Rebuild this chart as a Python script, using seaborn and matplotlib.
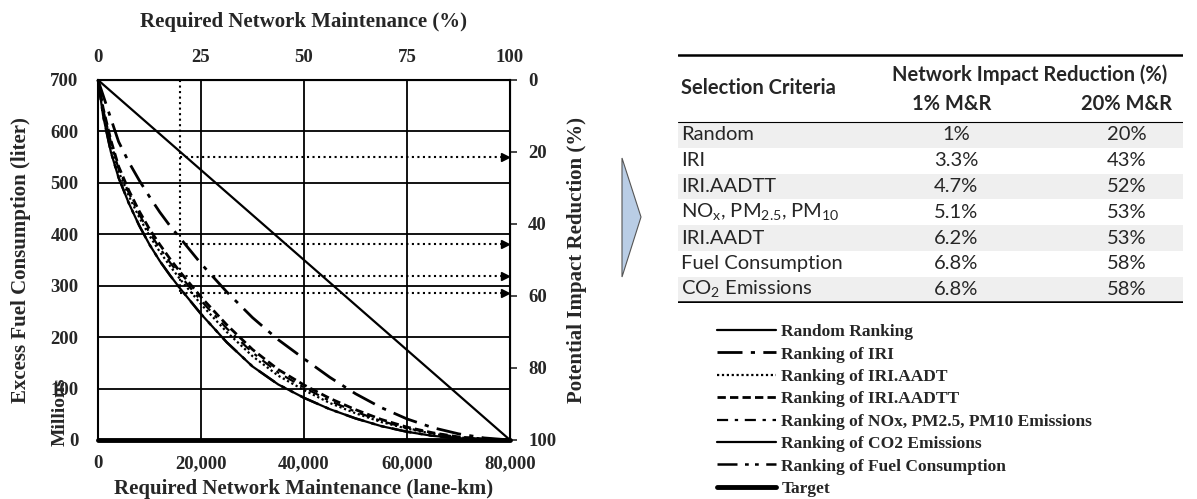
import matplotlib
matplotlib.use('Agg')
import matplotlib.pyplot as plt
import seaborn as sns
from matplotlib.patches import Polygon

sns.set_style('white')
plt.rcParams['font.family'] = ['Liberation Serif', 'DejaVu Serif']

# curve data (excess fuel, millions of liters)
lane_km = [0, 1000, 2500, 4000, 6000, 8000, 10000, 12000, 14000, 16000, 20000, 25000,
           30000, 35000, 40000, 45000, 50000, 55000, 60000, 65000, 70000, 75000, 80000]
fuel_iri = [700, 670, 625, 580, 540, 505, 473, 443, 416, 392, 343, 288,
            238, 195, 158, 122, 90, 63, 41, 24, 12, 4, 0]
fuel_aadt = [700, 640, 575, 522, 474, 433, 397, 366, 338, 312, 264, 210,
             163, 125, 97, 72, 52, 35, 22, 12, 5, 1.5, 0]
fuel_aadtt = [700, 645, 583, 532, 485, 445, 410, 380, 352, 326, 278, 224,
              176, 137, 107, 81, 59, 40, 25, 14, 6, 2, 0]
fuel_nox = [700, 642, 579, 527, 480, 439, 403, 373, 345, 319, 271, 217,
            170, 131, 102, 76, 55, 37, 23, 13, 5.5, 1.8, 0]
fuel_co2 = [700, 630, 560, 510, 460, 417, 380, 348, 320, 294, 245, 190,
            143, 108, 82, 60, 42, 27, 16, 8, 3.5, 1, 0]
fuel_fuel = [700, 630, 560, 510, 460, 417, 380, 348, 320, 294, 245, 190,
             143, 108, 82, 60, 42, 27, 16, 8, 3.5, 1, 0]
random_km = [0, 80000]
random_fuel = [700, 0]
target_km = [0, 80000]
target_fuel = [0, 0]

# 20% M&R marker and the arrow levels
mr_km = 16000
arrow_levels = [550, 382, 318, 286]

x_ticks = [0, 20000, 40000, 60000, 80000]
x_tick_labels = ['0', '20,000', '40,000', '60,000', '80,000']
y_ticks = [0, 100, 200, 300, 400, 500, 600, 700]
top_ticks = [0, 25, 50, 75, 100]
right_ticks = [0, 20, 40, 60, 80, 100]

# table
criteria = ['Random', 'IRI', 'IRI.AADTT',
            r'NO$_\mathregular{x}$, PM$_\mathregular{2.5}$, PM$_\mathregular{10}$',
            'IRI.AADT', 'Fuel Consumption', r'CO$_\mathregular{2}$ Emissions']
red_1pct = ['1%', '3.3%', '4.7%', '5.1%', '6.2%', '6.8%', '6.8%']
red_20pct = ['20%', '43%', '52%', '53%', '53%', '58%', '58%']

W, H = 1197, 499
fig = plt.figure(figsize=(W / 100, H / 100), dpi=100)
ax = fig.add_axes([98 / W, 1 - 440 / H, (510 - 98) / W, (440 - 80) / H])

series = [
    ('Random Ranking', random_km, random_fuel, '-', 1.6),
    ('Ranking of IRI', lane_km, fuel_iri, (0, (9, 3, 1.5, 3)), 2.0),
    ('Ranking of IRI.AADT', lane_km, fuel_aadt, (0, (1, 1.2)), 1.6),
    ('Ranking of IRI.AADTT', lane_km, fuel_aadtt, (0, (3, 1.5)), 2.0),
    ('Ranking of NOx, PM2.5, PM10 Emissions', lane_km, fuel_nox, (0, (5, 3, 1.5, 3)), 1.6),
    ('Ranking of CO2 Emissions', lane_km, fuel_co2, '-', 1.6),
    ('Ranking of Fuel Consumption', lane_km, fuel_fuel, (0, (8, 3, 1.5, 2.5, 1.5, 3)), 1.8),
    ('Target', target_km, target_fuel, '-', 3.5),
]
for name, xs, ys, ls, lw in series:
    sns.lineplot(x=xs, y=ys, ax=ax, color='black', linestyle=ls, linewidth=lw,
                 label=name, clip_on=False)
handles, labels = ax.get_legend_handles_labels()
if ax.get_legend() is not None:
    ax.get_legend().remove()

# dotted guides at 20% M&R
ax.plot([mr_km, mr_km], [700, min(arrow_levels)], ls=':', color='black', lw=1.5)
for lvl in arrow_levels:
    ax.plot([mr_km, 79000], [lvl, lvl], ls=':', color='black', lw=1.5)
    ax.plot(79000, lvl, marker='>', color='black', ms=6, clip_on=False)

ax.set_xlim(0, 80000)
ax.set_ylim(0, 700)
ax.set_xticks(x_ticks)
ax.set_xticklabels(x_tick_labels)
ax.set_yticks(y_ticks)
ax.grid(True, color='black', lw=1.3)
for s in ax.spines.values():
    s.set_color('black')
    s.set_linewidth(1.5)
ax.tick_params(axis='x', length=5, width=1.2, color='black', pad=6,
               labelsize=13.5)
ax.tick_params(axis='y', length=0, pad=14, labelsize=13.5)
for t in ax.get_xticklabels() + ax.get_yticklabels():
    t.set_fontweight('bold')
ax.set_xlabel('Required Network Maintenance (lane-km)', fontsize=15,
              fontweight='bold', labelpad=5)
ax.set_ylabel('Excess Fuel Consumption (liter)', fontsize=15,
              fontweight='bold', labelpad=14)

top = ax.secondary_xaxis('top', functions=(lambda x: x / 800, lambda p: p * 800))
top.set_xticks(top_ticks)
top.tick_params(length=0, pad=10, labelsize=13.5)
for t in top.get_xticklabels():
    t.set_fontweight('bold')
top.set_xlabel('Required Network Maintenance (%)', fontsize=15,
               fontweight='bold', labelpad=16)

right = ax.secondary_yaxis('right', functions=(lambda y: (700 - y) / 7, lambda p: 700 - 7 * p))
right.set_yticks(right_ticks)
right.tick_params(length=5, width=1.2, pad=8, labelsize=13.5)
for t in right.get_yticklabels():
    t.set_fontweight('bold')
right.set_ylabel('Potential Impact Reduction (%)', fontsize=15,
                 fontweight='bold', labelpad=8)

fig.text(60 / W, 1 - 412 / H, 'Millions', rotation=90, ha='center', va='center',
         fontsize=14, fontweight='bold')

# chevron
chev = [(622, 158), (641, 217), (622, 277)]
fig.patches.append(Polygon([(x / W, 1 - y / H) for x, y in chev], closed=True,
                           transform=fig.transFigure, facecolor='#B9CDE5',
                           edgecolor='#555555', lw=0.8))

# table
tx0, tx1, ty0, ty1 = 678, 1183, 54, 303
tax = fig.add_axes([tx0 / W, 1 - ty1 / H, (tx1 - tx0) / W, (ty1 - ty0) / H])
tax.set_xlim(tx0, tx1)
tax.set_ylim(ty1, ty0)
tax.axis('off')
row_top, row_h = 122, 25.8
sans = ['Lato', 'DejaVu Sans']
fs = 14.5
for i, (c, a, b) in enumerate(zip(criteria, red_1pct, red_20pct)):
    y0 = row_top + i * row_h
    if i % 2 == 0:
        tax.axhspan(y0, y0 + row_h, color='#EFEFEF', lw=0)
    yc = y0 + row_h / 2
    tax.text(681, yc, c, ha='left', va='center', family=sans, fontsize=fs)
    tax.text(956, yc, a, ha='center', va='center', family=sans, fontsize=fs)
    tax.text(1127, yc, b, ha='center', va='center', family=sans, fontsize=fs)
tax.axhline(ty0 + 1, color='black', lw=1.8)
tax.axhline(row_top - 0.5, color='black', lw=0.8)
tax.axhline(ty1 - 1, color='black', lw=1.8)
tax.text(681, 88, 'Selection Criteria', ha='left', va='center', family=sans,
         fontsize=fs, fontweight='bold')
tax.text(1030, 75, 'Network Impact Reduction (%)', ha='center', va='center',
         family=sans, fontsize=fs, fontweight='bold')
tax.text(952, 104, '1% M&R', ha='center', va='center', family=sans,
         fontsize=fs, fontweight='bold')
tax.text(1127, 104, '20% M&R', ha='center', va='center', family=sans,
         fontsize=fs, fontweight='bold')

# legend
fig.legend(handles, labels, loc='upper left', bbox_to_anchor=(717 / W, 1 - 324 / H),
           frameon=False, handlelength=3.4, handletextpad=0.3, labelspacing=0.36,
           borderpad=0, borderaxespad=0,
           prop=dict(family='Liberation Serif', weight='bold', size=12.5))

fig.savefig('out.png', dpi=100)
